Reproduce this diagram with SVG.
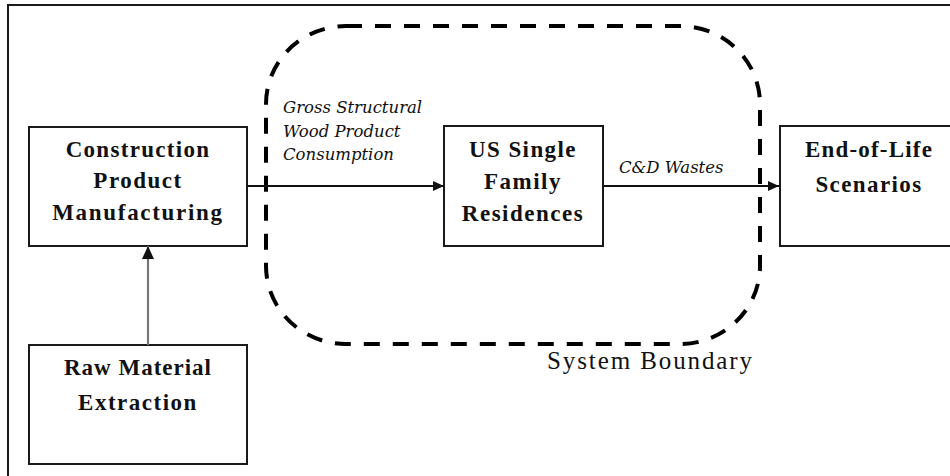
<svg xmlns="http://www.w3.org/2000/svg" width="950" height="476" viewBox="0 0 950 476">
<style>
.box{fill:#fff;stroke:#1a1a1a;stroke-width:2}
.bold{font-family:"Liberation Serif","Times New Roman",serif;font-weight:bold;font-size:23px;fill:#111;text-anchor:middle}
.ital{font-family:"DejaVu Serif",serif;font-style:italic;font-size:16.5px;fill:#111}
.conn{stroke:#111;stroke-width:1.8;fill:none}
</style>
<defs>
<marker id="ah" markerUnits="userSpaceOnUse" markerWidth="12" markerHeight="11" refX="11" refY="5" orient="auto">
<path d="M0,0 L11,5 L0,10 z" fill="#111"/>
</marker>
<marker id="ahv" markerUnits="userSpaceOnUse" markerWidth="14" markerHeight="13" refX="13" refY="6" orient="auto">
<path d="M0,0 L13,6 L0,12 z" fill="#111"/>
</marker>
</defs>
<rect x="0" y="0" width="950" height="476" fill="#fff"/>
<rect x="8" y="5" width="960" height="490" fill="none" stroke="#1a1a1a" stroke-width="2"/>
<g id="boundary">
<rect x="266" y="26" width="494" height="318" rx="80" ry="78" fill="none" stroke="#000" stroke-width="4" stroke-dasharray="16 13"/>
<text x="547" y="369" font-family="Liberation Serif,'Times New Roman',serif" font-size="25" letter-spacing="1.9" fill="#111">System Boundary</text>
</g>
<g id="construction">
<rect class="box" x="29" y="127" width="218" height="119"/>
<text class="bold" x="138" y="157" letter-spacing="1.3">Construction</text>
<text class="bold" x="138" y="188" letter-spacing="1.5">Product</text>
<text class="bold" x="138" y="220" letter-spacing="1.7">Manufacturing</text>
</g>
<g id="raw">
<rect class="box" x="29" y="345" width="218" height="119"/>
<text class="bold" x="138" y="375" letter-spacing="1">Raw Material</text>
<text class="bold" x="138" y="410" letter-spacing="1.5">Extraction</text>
</g>
<g id="residences">
<rect class="box" x="444" y="126" width="159" height="120"/>
<text class="bold" x="523" y="157" letter-spacing="1.4">US Single</text>
<text class="bold" x="523" y="189" letter-spacing="1.5">Family</text>
<text class="bold" x="523" y="221" letter-spacing="1.5">Residences</text>
</g>
<g id="endoflife">
<rect class="box" x="780" y="126" width="190" height="120"/>
<text class="bold" x="869" y="157" letter-spacing="1.2">End-of-Life</text>
<text class="bold" x="869" y="192" letter-spacing="1.4">Scenarios</text>
</g>
<g id="connectors">
<line x1="148" y1="345" x2="148" y2="246" stroke="#777" stroke-width="2.2" marker-end="url(#ahv)"/>
<line class="conn" x1="247" y1="186" x2="444" y2="186" marker-end="url(#ah)"/>
<line class="conn" x1="603" y1="186" x2="779" y2="186" marker-end="url(#ah)"/>
<text class="ital" x="283" y="113">Gross Structural</text>
<text class="ital" x="283" y="137">Wood Product</text>
<text class="ital" x="283" y="160">Consumption</text>
<text class="ital" x="619" y="173">C&amp;D Wastes</text>
</g>
</svg>
